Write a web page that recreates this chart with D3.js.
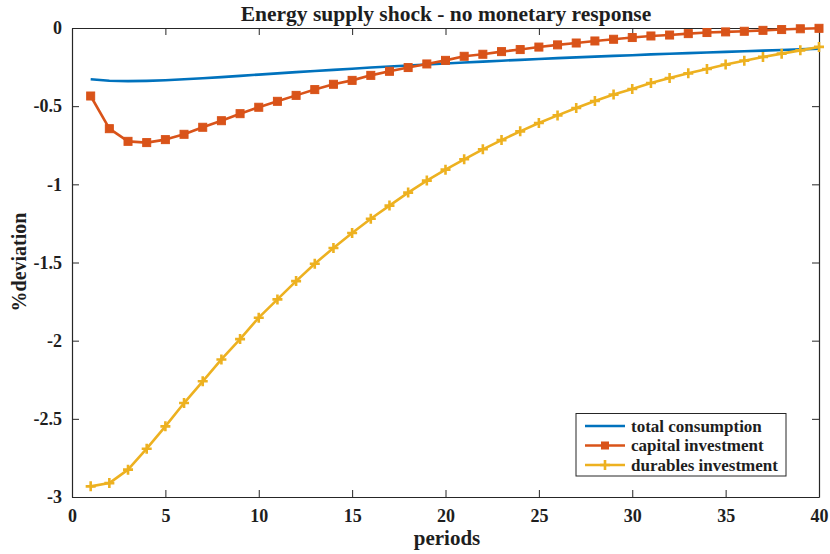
<!DOCTYPE html>
<html><head><meta charset="utf-8">
<script src="https://cdn.jsdelivr.net/npm/d3@7"></script>
<style>body{margin:0;background:#fff}svg{display:block}text{font-family:"Liberation Serif","Times New Roman",serif;font-weight:bold;fill:#1e1e1e}</style>
</head><body><svg id="c" width="830" height="554"></svg>
<script>
const periods = d3.range(1, 41);
const totalConsumption = [-0.328,-0.337,-0.340,-0.338,-0.334,-0.328,-0.321,-0.314,-0.306,-0.298,-0.290,-0.282,-0.275,-0.268,-0.261,-0.253,-0.246,-0.240,-0.233,-0.227,-0.221,-0.215,-0.209,-0.204,-0.198,-0.193,-0.188,-0.183,-0.178,-0.174,-0.169,-0.165,-0.161,-0.157,-0.153,-0.149,-0.145,-0.141,-0.137,-0.132];
const capitalInvestment = [-0.435,-0.644,-0.725,-0.733,-0.714,-0.680,-0.635,-0.593,-0.548,-0.507,-0.469,-0.431,-0.394,-0.360,-0.335,-0.303,-0.277,-0.253,-0.230,-0.207,-0.181,-0.168,-0.151,-0.138,-0.122,-0.108,-0.096,-0.083,-0.072,-0.061,-0.051,-0.045,-0.036,-0.029,-0.025,-0.021,-0.015,-0.010,-0.005,-0.002];
const durablesInvestment = [-2.932,-2.911,-2.825,-2.691,-2.548,-2.399,-2.260,-2.120,-1.990,-1.853,-1.736,-1.619,-1.508,-1.407,-1.311,-1.220,-1.136,-1.053,-0.976,-0.906,-0.840,-0.776,-0.717,-0.661,-0.608,-0.559,-0.512,-0.467,-0.426,-0.390,-0.352,-0.320,-0.290,-0.262,-0.234,-0.209,-0.185,-0.164,-0.143,-0.121];
const xTicks = [0,5,10,15,20,25,30,35,40];
const yTicks = [0,-0.5,-1,-1.5,-2,-2.5,-3];
const seriesNames = ["total consumption","capital investment","durables investment"];
const colors = ["#0072BD","#D95319","#EDB120"];

const L=72, R=819, T=28, B=497;
const svg = d3.select("#c");
const x = d3.scaleLinear().domain([0,40]).range([L,R]);
const y = d3.scaleLinear().domain([-3,0]).range([B,T]);
const axCol = "#262626";

const gx = svg.append("g").attr("transform",`translate(0,${B})`)
  .call(d3.axisBottom(x).tickValues(xTicks).tickSizeInner(-7).tickSizeOuter(0).tickPadding(12));
const gxt = svg.append("g").attr("transform",`translate(0,${T})`)
  .call(d3.axisTop(x).tickValues(xTicks).tickSizeInner(-7).tickSizeOuter(0).tickFormat(""));
const gy = svg.append("g").attr("transform",`translate(${L},0)`)
  .call(d3.axisLeft(y).tickValues(yTicks).tickSizeInner(-7).tickSizeOuter(0).tickPadding(10).tickFormat(d=>d===0?"0":String(d)));
const gyr = svg.append("g").attr("transform",`translate(${R},0)`)
  .call(d3.axisRight(y).tickValues(yTicks).tickSizeInner(-7).tickSizeOuter(0).tickFormat(""));
[gx,gxt,gy,gyr].forEach(g=>{
  g.select(".domain").attr("stroke",axCol).attr("stroke-width",1.2);
  g.selectAll(".tick line").attr("stroke",axCol).attr("stroke-width",1);
  g.selectAll("text").attr("font-size",18).attr("font-family","Liberation Serif, serif").attr("font-weight","bold").attr("fill","#1e1e1e");
});

const line = d3.line().x((d,i)=>x(periods[i])).y(d=>y(d));
const data = [totalConsumption, capitalInvestment, durablesInvestment];
data.forEach((s,k)=>{
  svg.append("path").datum(s).attr("d",line).attr("fill","none").attr("stroke",colors[k]).attr("stroke-width",2.6).attr("stroke-linejoin","round");
});
svg.append("g").selectAll("rect").data(capitalInvestment).join("rect")
  .attr("x",(d,i)=>x(periods[i])-4).attr("y",d=>y(d)-4).attr("width",8).attr("height",8)
  .attr("fill",colors[1]).attr("stroke",colors[1]).attr("stroke-width",1);
const plus = (g,cx,cy,s)=>{
  g.append("path").attr("d",`M${cx-s},${cy}H${cx+s}M${cx},${cy-s}V${cy+s}`).attr("stroke",colors[2]).attr("stroke-width",2.6).attr("fill","none");
};
const pg = svg.append("g");
durablesInvestment.forEach((d,i)=>plus(pg,x(periods[i]),y(d),5));

svg.append("text").attr("x",446).attr("y",21).attr("text-anchor","middle").attr("font-size",21.5).text("Energy supply shock - no monetary response");
svg.append("text").attr("x",447).attr("y",545).attr("text-anchor","middle").attr("font-size",21).text("periods");
svg.append("text").attr("transform","translate(26,262) rotate(-90)").attr("text-anchor","middle").attr("font-size",20).text("%deviation");

const lg = svg.append("g");
lg.append("rect").attr("x",576).attr("y",413.5).attr("width",210).attr("height",62.5).attr("fill","#fff").attr("stroke",axCol).attr("stroke-width",1);
const rows=[426,445.5,465];
seriesNames.forEach((n,k)=>{
  lg.append("line").attr("x1",585).attr("x2",625).attr("y1",rows[k]).attr("y2",rows[k]).attr("stroke",colors[k]).attr("stroke-width",2.6);
  if(k===1) lg.append("rect").attr("x",601).attr("y",rows[k]-4).attr("width",8).attr("height",8).attr("fill",colors[1]);
  if(k===2) plus(lg,605,rows[k],5);
  lg.append("text").attr("x",631).attr("y",rows[k]+5.5).attr("font-size",17).text(n);
});
</script></body></html>
